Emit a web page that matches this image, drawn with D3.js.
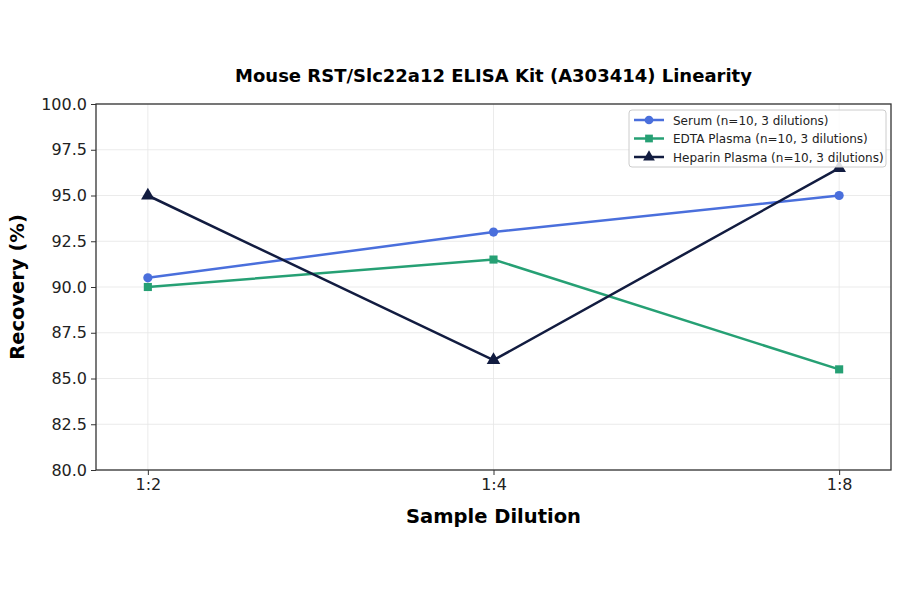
<!DOCTYPE html>
<html>
<head>
<meta charset="utf-8">
<script src="https://d3js.org/d3.v7.min.js"></script>
<style>
  body { margin: 0; background: #fff; }
  text { font-family: "DejaVu Sans", sans-serif; }
</style>
</head>
<body>
<svg width="900" height="594"></svg>
<script>
const dilutions = ["1:2", "1:4", "1:8"];
const serum = [90.5, 93.0, 95.0];
const edta = [90.0, 91.5, 85.5];
const heparin = [95.0, 86.0, 96.5];
const yTicks = [80, 82.5, 85, 87.5, 90, 92.5, 95, 97.5, 100];

const series = [
  { name: "Serum (n=10, 3 dilutions)", values: serum, color: "#4a6fdc", marker: "circle" },
  { name: "EDTA Plasma (n=10, 3 dilutions)", values: edta, color: "#26a074", marker: "square" },
  { name: "Heparin Plasma (n=10, 3 dilutions)", values: heparin, color: "#121c40", marker: "triangle" }
];

const svg = d3.select("svg");
const margin = { left: 96, right: 9, top: 104, bottom: 124 };
const width = 900 - margin.left - margin.right;
const height = 594 - margin.top - margin.bottom;

const g = svg.append("g").attr("transform", `translate(${margin.left},${margin.top})`);

const x = d3.scalePoint().domain(dilutions).range([0, width]).padding(0.15);
const y = d3.scaleLinear().domain([80, 100]).range([height, 0]);

function symType(m) {
  return m === "circle" ? d3.symbolCircle : m === "square" ? d3.symbolSquare : d3.symbolTriangle;
}

// grid
g.append("g").selectAll("line").data(yTicks).join("line")
  .attr("x1", 0).attr("x2", width)
  .attr("y1", d => y(d)).attr("y2", d => y(d))
  .attr("stroke", "#e6e6e6").attr("stroke-width", 0.8);
g.append("g").selectAll("line").data(dilutions).join("line")
  .attr("x1", d => x(d)).attr("x2", d => x(d))
  .attr("y1", 0).attr("y2", height)
  .attr("stroke", "#e6e6e6").attr("stroke-width", 0.8);

// axes
const xAxis = g.append("g").attr("transform", `translate(0,${height})`)
  .call(d3.axisBottom(x).tickSize(5).tickPadding(4));
const yAxis = g.append("g")
  .call(d3.axisLeft(y).tickValues(yTicks).tickFormat(d3.format(".1f")).tickSize(5).tickPadding(4));
[xAxis, yAxis].forEach(a => {
  a.selectAll("text").attr("font-size", 16).attr("fill", "#222").style("font-family", "DejaVu Sans, sans-serif");
  a.selectAll("line").attr("stroke", "#333");
  a.select(".domain").remove();
});

g.append("rect").attr("width", width).attr("height", height)
  .attr("fill", "none").attr("stroke", "#333").attr("stroke-width", 1.3);

// lines
const line = d3.line().x((d, i) => x(dilutions[i])).y(d => y(d));
series.forEach(s => {
  g.append("path").datum(s.values)
    .attr("fill", "none").attr("stroke", s.color).attr("stroke-width", 2.5)
    .attr("d", line);
  g.append("g").selectAll("path").data(s.values).join("path")
    .attr("transform", (d, i) => `translate(${x(dilutions[i])},${y(d)})`)
    .attr("d", d3.symbol().type(symType(s.marker)).size(s.marker === "triangle" ? 80 : 66))
    .attr("fill", s.color);
});

// title and labels
svg.append("text").attr("x", margin.left + width / 2).attr("y", 82)
  .attr("text-anchor", "middle").attr("font-size", 18).attr("font-weight", "bold")
  .text("Mouse RST/Slc22a12 ELISA Kit (A303414) Linearity");
svg.append("text").attr("x", margin.left + width / 2).attr("y", 523)
  .attr("text-anchor", "middle").attr("font-size", 19.5).attr("font-weight", "bold")
  .text("Sample Dilution");
svg.append("text").attr("transform", `translate(24,${margin.top + height / 2}) rotate(-90)`)
  .attr("text-anchor", "middle").attr("font-size", 19.5).attr("font-weight", "bold")
  .text("Recovery (%)");

// legend
const lg = svg.append("g").attr("transform", "translate(629,110)");
lg.append("rect").attr("width", 257).attr("height", 57).attr("rx", 3)
  .attr("fill", "#fff").attr("fill-opacity", 0.85).attr("stroke", "#ccc");
series.forEach((s, i) => {
  const yy = 10 + i * 18.5;
  lg.append("line").attr("x1", 5).attr("x2", 35).attr("y1", yy).attr("y2", yy)
    .attr("stroke", s.color).attr("stroke-width", 2.5);
  lg.append("path").attr("transform", `translate(20,${yy})`)
    .attr("d", d3.symbol().type(symType(s.marker)).size(60)).attr("fill", s.color);
  lg.append("text").attr("x", 44).attr("y", yy + 4.5).attr("font-size", 12).attr("fill", "#222")
    .text(s.name);
});
</script>
</body>
</html>
